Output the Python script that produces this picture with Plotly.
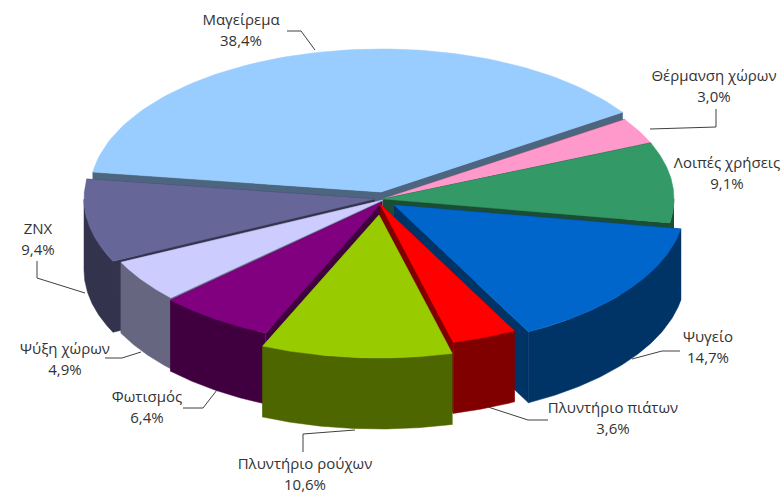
import numpy as np
import plotly.graph_objects as go

categories = ["Μαγείρεμα", "Θέρμανση χώρων", "Λοιπές χρήσεις", "Ψυγείο", "Πλυντήριο πιάτων",
              "Πλυντήριο ρούχων", "Φωτισμός", "Ψύξη χώρων", "ZNX"]
values = [38.4, 3.0, 9.1, 14.7, 3.6, 10.6, 6.4, 4.9, 9.4]
top_colors = ["#99CCFF", "#FF99CC", "#339966", "#0066CC", "#FF0000", "#99CC00", "#800080", "#CCCCFF", "#666699"]
wall_colors = ["#4C6680", "#804D66", "#1A4D33", "#003366", "#800000", "#4D6600", "#400040", "#666680", "#33334D"]

# layout of the pie
apex_x = [381, 383, 383, 394, 380, 379, 382, 383, 375]
apex_y = [192, 199, 199, 205, 204, 215, 202, 200, 199]
RX, RY, DEPTH = 291, 143, 71
START = 172.0
draw_order = [0, 1, 2, 8, 7, 6, 3, 4, 5]

label_x = [241, 714, 727, 708, 613, 305, 147, 65, 38]
label_y = [21, 77, 164, 338, 409, 465, 398, 350, 230]
value_gap = 21
leader_x = [[287, 301, 315], [650, 716, 716], None, [632, 662, 680], [488, 528, 548],
            [355, 303, 303], [217, 203, 183], [141, 122, 105], [85, 37, 37]]
leader_y = [[31, 31, 50], [129, 127, 109], None, [359, 351, 351], [407, 420, 420],
            [430, 434, 452], [390, 408, 408], [352, 358, 358], [293, 278, 261]]

total = sum(values)
fig = go.Figure()


def poly(xs, ys, color):
    fig.add_trace(go.Scatter(x=[float(q) for q in xs], y=[float(q) for q in ys], mode="lines", fill="toself",
                             fillcolor=color, line=dict(color=color, width=0.5),
                             hoverinfo="skip", showlegend=False))


bounds = []
angle = START
for v in values:
    bounds.append((angle, angle - v / total * 360))
    angle = bounds[-1][1]

for i in draw_order:
    a0, a1 = bounds[i]
    cx, cy = apex_x[i], apex_y[i]
    t = np.radians(np.linspace(a0, a1, 80))
    ox, oy = cx + RX * np.cos(t), cy - RY * np.sin(t)
    # radial walls
    for k in (0, -1):
        poly([cx, ox[k], ox[k], cx], [cy, oy[k], oy[k] + DEPTH, cy + DEPTH], wall_colors[i])
    # outer wall, only where it faces the viewer
    m = np.sin(t) <= 0
    if m.any():
        wx, wy = ox[m], oy[m]
        poly(list(wx) + list(wx[::-1]), list(wy) + list(wy[::-1] + DEPTH), wall_colors[i])
    # top face
    poly([cx] + list(ox) + [cx], [cy] + list(oy) + [cy], top_colors[i])

for lx, ly in zip(leader_x, leader_y):
    if lx:
        fig.add_trace(go.Scatter(x=lx, y=ly, mode="lines", line=dict(color="#404040", width=1),
                                 hoverinfo="skip", showlegend=False))

percent = [f"{v:.1f}%".replace(".", ",") for v in values]
fig.add_trace(go.Scatter(x=label_x + label_x, y=label_y + [y + value_gap for y in label_y],
                         text=categories + percent, mode="text", textposition="middle center",
                         textfont=dict(family="Open Sans", size=15, color="#333333"),
                         cliponaxis=False, hoverinfo="skip", showlegend=False))

fig.update_xaxes(range=[0, 782], visible=False, fixedrange=True)
fig.update_yaxes(range=[493, 0], visible=False, fixedrange=True)
fig.update_layout(width=782, height=493, margin=dict(l=0, r=0, t=0, b=0),
                  paper_bgcolor="white", plot_bgcolor="white", showlegend=False)
fig.write_html("out.html", config=dict(displayModeBar=False),
               post_script="document.body.style.margin='0';document.body.style.overflow='hidden';")
